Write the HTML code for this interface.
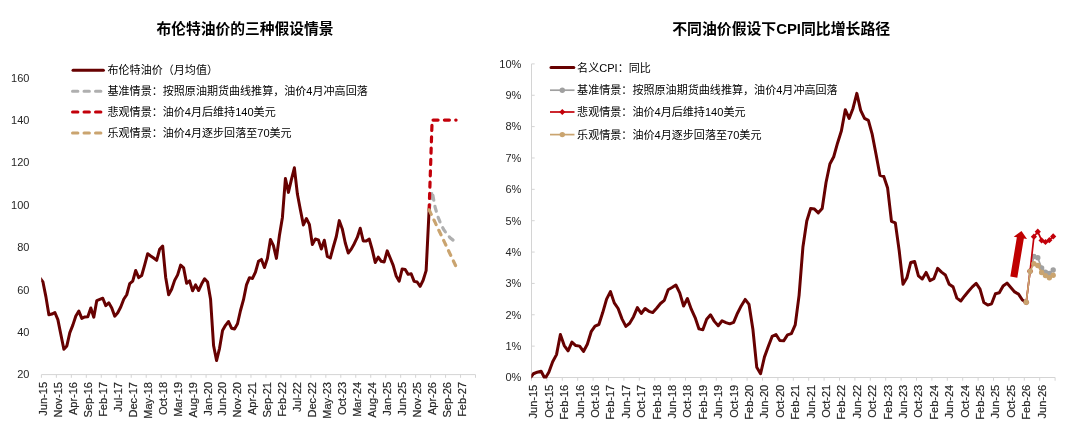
<!DOCTYPE html>
<html lang="zh"><head><meta charset="utf-8"><title>chart</title>
<style>
html,body{margin:0;padding:0;background:#fff;}
body{width:1080px;height:438px;overflow:hidden;}
svg{display:block;will-change:transform;}
text{font-family:"Liberation Sans","Noto Sans CJK SC",sans-serif;}
</style></head><body>
<svg width="1080" height="438" viewBox="0 0 1080 438">
<path d="M41.4 374.6 H475.5" stroke="#D4D4D4" stroke-width="1" fill="none"/>
<path d="M41.40 374.6 v3.2M56.37 374.6 v3.2M71.34 374.6 v3.2M86.31 374.6 v3.2M101.28 374.6 v3.2M116.25 374.6 v3.2M131.22 374.6 v3.2M146.19 374.6 v3.2M161.16 374.6 v3.2M176.13 374.6 v3.2M191.10 374.6 v3.2M206.07 374.6 v3.2M221.04 374.6 v3.2M236.01 374.6 v3.2M250.98 374.6 v3.2M265.95 374.6 v3.2M280.92 374.6 v3.2M295.89 374.6 v3.2M310.86 374.6 v3.2M325.83 374.6 v3.2M340.80 374.6 v3.2M355.77 374.6 v3.2M370.74 374.6 v3.2M385.71 374.6 v3.2M400.68 374.6 v3.2M415.65 374.6 v3.2M430.62 374.6 v3.2M445.59 374.6 v3.2M460.56 374.6 v3.2M475.53 374.6 v3.2" stroke="#D4D4D4" stroke-width="1" fill="none"/>
<text x="29.4" y="378.45" font-size="11" text-anchor="end" fill="#262626">20</text>
<text x="29.4" y="336.03" font-size="11" text-anchor="end" fill="#262626">40</text>
<text x="29.4" y="293.61" font-size="11" text-anchor="end" fill="#262626">60</text>
<text x="29.4" y="251.19" font-size="11" text-anchor="end" fill="#262626">80</text>
<text x="29.4" y="208.77" font-size="11" text-anchor="end" fill="#262626">100</text>
<text x="29.4" y="166.35" font-size="11" text-anchor="end" fill="#262626">120</text>
<text x="29.4" y="123.93" font-size="11" text-anchor="end" fill="#262626">140</text>
<text x="29.4" y="81.51" font-size="11" text-anchor="end" fill="#262626">160</text>
<text transform="translate(46.85 382.00) rotate(-90)" font-size="11" text-anchor="end" fill="#262626" stroke="#262626" stroke-width="0.2">Jun-15</text>
<text transform="translate(61.82 382.00) rotate(-90)" font-size="11" text-anchor="end" fill="#262626" stroke="#262626" stroke-width="0.2">Nov-15</text>
<text transform="translate(76.79 382.00) rotate(-90)" font-size="11" text-anchor="end" fill="#262626" stroke="#262626" stroke-width="0.2">Apr-16</text>
<text transform="translate(91.76 382.00) rotate(-90)" font-size="11" text-anchor="end" fill="#262626" stroke="#262626" stroke-width="0.2">Sep-16</text>
<text transform="translate(106.73 382.00) rotate(-90)" font-size="11" text-anchor="end" fill="#262626" stroke="#262626" stroke-width="0.2">Feb-17</text>
<text transform="translate(121.70 382.00) rotate(-90)" font-size="11" text-anchor="end" fill="#262626" stroke="#262626" stroke-width="0.2">Jul-17</text>
<text transform="translate(136.67 382.00) rotate(-90)" font-size="11" text-anchor="end" fill="#262626" stroke="#262626" stroke-width="0.2">Dec-17</text>
<text transform="translate(151.64 382.00) rotate(-90)" font-size="11" text-anchor="end" fill="#262626" stroke="#262626" stroke-width="0.2">May-18</text>
<text transform="translate(166.61 382.00) rotate(-90)" font-size="11" text-anchor="end" fill="#262626" stroke="#262626" stroke-width="0.2">Oct-18</text>
<text transform="translate(181.58 382.00) rotate(-90)" font-size="11" text-anchor="end" fill="#262626" stroke="#262626" stroke-width="0.2">Mar-19</text>
<text transform="translate(196.55 382.00) rotate(-90)" font-size="11" text-anchor="end" fill="#262626" stroke="#262626" stroke-width="0.2">Aug-19</text>
<text transform="translate(211.52 382.00) rotate(-90)" font-size="11" text-anchor="end" fill="#262626" stroke="#262626" stroke-width="0.2">Jan-20</text>
<text transform="translate(226.49 382.00) rotate(-90)" font-size="11" text-anchor="end" fill="#262626" stroke="#262626" stroke-width="0.2">Jun-20</text>
<text transform="translate(241.46 382.00) rotate(-90)" font-size="11" text-anchor="end" fill="#262626" stroke="#262626" stroke-width="0.2">Nov-20</text>
<text transform="translate(256.43 382.00) rotate(-90)" font-size="11" text-anchor="end" fill="#262626" stroke="#262626" stroke-width="0.2">Apr-21</text>
<text transform="translate(271.40 382.00) rotate(-90)" font-size="11" text-anchor="end" fill="#262626" stroke="#262626" stroke-width="0.2">Sep-21</text>
<text transform="translate(286.37 382.00) rotate(-90)" font-size="11" text-anchor="end" fill="#262626" stroke="#262626" stroke-width="0.2">Feb-22</text>
<text transform="translate(301.34 382.00) rotate(-90)" font-size="11" text-anchor="end" fill="#262626" stroke="#262626" stroke-width="0.2">Jul-22</text>
<text transform="translate(316.31 382.00) rotate(-90)" font-size="11" text-anchor="end" fill="#262626" stroke="#262626" stroke-width="0.2">Dec-22</text>
<text transform="translate(331.28 382.00) rotate(-90)" font-size="11" text-anchor="end" fill="#262626" stroke="#262626" stroke-width="0.2">May-23</text>
<text transform="translate(346.25 382.00) rotate(-90)" font-size="11" text-anchor="end" fill="#262626" stroke="#262626" stroke-width="0.2">Oct-23</text>
<text transform="translate(361.22 382.00) rotate(-90)" font-size="11" text-anchor="end" fill="#262626" stroke="#262626" stroke-width="0.2">Mar-24</text>
<text transform="translate(376.19 382.00) rotate(-90)" font-size="11" text-anchor="end" fill="#262626" stroke="#262626" stroke-width="0.2">Aug-24</text>
<text transform="translate(391.16 382.00) rotate(-90)" font-size="11" text-anchor="end" fill="#262626" stroke="#262626" stroke-width="0.2">Jan-25</text>
<text transform="translate(406.13 382.00) rotate(-90)" font-size="11" text-anchor="end" fill="#262626" stroke="#262626" stroke-width="0.2">Jun-25</text>
<text transform="translate(421.10 382.00) rotate(-90)" font-size="11" text-anchor="end" fill="#262626" stroke="#262626" stroke-width="0.2">Nov-25</text>
<text transform="translate(436.07 382.00) rotate(-90)" font-size="11" text-anchor="end" fill="#262626" stroke="#262626" stroke-width="0.2">Apr-26</text>
<text transform="translate(451.04 382.00) rotate(-90)" font-size="11" text-anchor="end" fill="#262626" stroke="#262626" stroke-width="0.2">Sep-26</text>
<text transform="translate(466.01 382.00) rotate(-90)" font-size="11" text-anchor="end" fill="#262626" stroke="#262626" stroke-width="0.2">Feb-27</text>
<clipPath id="cl"><rect x="41.2" y="50" width="440" height="330"/></clipPath>
<path d="M39.90 277.86 L42.90 281.81 L45.89 296.63 L48.88 314.77 L51.88 314.07 L54.87 312.48 L57.87 319.60 L60.86 334.51 L63.86 349.30 L66.85 345.90 L69.84 332.63 L72.84 325.10 L75.83 315.95 L78.83 311.12 L81.82 318.33 L84.81 316.99 L87.81 316.82 L90.80 308.02 L93.80 317.16 L96.79 300.53 L99.78 299.41 L102.78 298.24 L105.77 305.58 L108.77 302.87 L111.76 308.02 L114.75 316.17 L117.75 312.77 L120.74 307.00 L123.74 299.28 L126.73 294.74 L129.72 283.67 L132.72 281.09 L135.71 270.50 L138.71 277.61 L141.70 275.51 L144.69 264.82 L147.69 253.68 L150.68 255.95 L153.68 258.05 L156.67 260.41 L159.66 249.23 L162.66 246.00 L165.65 277.14 L168.65 294.70 L171.64 289.25 L174.63 280.36 L177.63 274.85 L180.62 265.09 L183.62 267.91 L186.61 283.31 L189.60 280.83 L192.60 290.82 L195.59 284.90 L198.59 290.54 L201.58 284.01 L204.57 278.79 L207.57 281.98 L210.56 299.35 L213.56 345.48 L216.55 360.54 L219.54 348.28 L222.54 330.55 L225.53 325.35 L228.53 321.53 L231.52 328.21 L234.51 328.96 L237.51 323.74 L240.50 310.50 L243.50 299.69 L246.49 284.92 L249.48 277.67 L252.48 278.46 L255.47 272.13 L258.47 261.32 L261.46 259.45 L264.45 267.47 L267.45 258.20 L270.44 239.39 L273.44 245.54 L276.43 258.37 L279.42 235.53 L282.42 217.43 L285.41 178.49 L288.41 192.36 L291.40 179.55 L294.39 167.80 L297.39 194.06 L300.38 209.71 L303.38 224.92 L306.37 218.52 L309.36 224.33 L312.36 244.50 L315.35 239.05 L318.34 239.83 L321.34 249.02 L324.33 240.19 L327.33 256.48 L330.32 257.99 L333.31 247.00 L336.31 236.52 L339.30 220.64 L342.30 228.89 L345.29 243.03 L348.29 253.02 L351.28 249.14 L354.27 243.69 L357.27 237.43 L360.26 228.25 L363.25 240.98 L366.25 240.98 L369.24 239.11 L372.24 249.72 L375.23 262.46 L378.23 257.14 L381.22 261.34 L384.21 261.91 L387.21 250.84 L390.20 258.05 L393.19 265.43 L396.19 276.06 L399.18 281.25 L402.18 268.97 L405.17 269.50 L408.17 274.36 L411.16 273.68 L414.15 281.38 L417.15 282.00 L420.14 286.30 L423.13 280.22 L426.13 270.67 L429.12 209.80" fill="none" stroke="#670101" stroke-width="3.0" stroke-linejoin="round" stroke-linecap="round" clip-path="url(#cl)"/>
<path d="M429.12 209.80 L432.12 191.35 L435.11 207.25 L438.11 217.22 L441.10 224.65 L444.09 230.16 L447.09 234.19 L450.08 237.80 L453.07 240.13 L456.07 242.46" fill="none" stroke="#AFAFAF" stroke-width="3.2" stroke-linejoin="round" stroke-linecap="round" stroke-dasharray="5.0 6.34"/>
<path d="M429.12 209.80 L432.12 120.08 L435.11 120.08 L438.11 120.08 L441.10 120.08 L444.09 120.08 L447.09 120.08 L450.08 120.08 L453.07 120.08 L456.07 120.08" fill="none" stroke="#C3000A" stroke-width="3.2" stroke-linejoin="round" stroke-linecap="round" stroke-dasharray="5.0 6.34"/>
<path d="M429.12 209.80 L432.12 216.11 L435.11 222.43 L438.11 228.75 L441.10 235.06 L444.09 241.38 L447.09 247.69 L450.08 254.01 L453.07 260.33 L456.07 266.64" fill="none" stroke="#CAA46F" stroke-width="3.2" stroke-linejoin="round" stroke-linecap="round" stroke-dasharray="5.0 6.34"/>
<path d="M73 70.30 H103.4" stroke="#670101" stroke-width="3" stroke-linecap="round" fill="none"/>
<text x="107.50" y="74.30" font-size="11.05" fill="#000">布伦特油价（月均值）</text>
<path d="M72.5 91.20 H101.6" stroke="#AFAFAF" stroke-width="3" stroke-linecap="round" stroke-dasharray="5.4 6.1" fill="none"/>
<text x="107.50" y="95.20" font-size="11.05" fill="#000">基准情景：按照原油期货曲线推算，油价4月冲高回落</text>
<path d="M72.5 112.00 H101.6" stroke="#C3000A" stroke-width="3" stroke-linecap="round" stroke-dasharray="5.4 6.1" fill="none"/>
<text x="107.50" y="116.00" font-size="11.05" fill="#000">悲观情景：油价4月后维持140美元</text>
<path d="M72.5 133.00 H101.6" stroke="#CAA46F" stroke-width="3" stroke-linecap="round" stroke-dasharray="5.4 6.1" fill="none"/>
<text x="107.50" y="137.00" font-size="11.05" fill="#000">乐观情景：油价4月逐步回落至70美元</text>
<text x="156.50" y="34.40" font-size="14.75" font-weight="bold" fill="#000">布伦特油价的三种假设情景</text>
<path d="M531.5 377.5 H1055.1" stroke="#D4D4D4" stroke-width="1" fill="none"/>
<path d="M531.5 377.5 V63.9" stroke="#D4D4D4" stroke-width="1" fill="none"/>
<path d="M531.50 377.5 v3.2M546.90 377.5 v3.2M562.30 377.5 v3.2M577.70 377.5 v3.2M593.10 377.5 v3.2M608.50 377.5 v3.2M623.90 377.5 v3.2M639.30 377.5 v3.2M654.70 377.5 v3.2M670.10 377.5 v3.2M685.50 377.5 v3.2M700.90 377.5 v3.2M716.30 377.5 v3.2M731.70 377.5 v3.2M747.10 377.5 v3.2M762.50 377.5 v3.2M777.90 377.5 v3.2M793.30 377.5 v3.2M808.70 377.5 v3.2M824.10 377.5 v3.2M839.50 377.5 v3.2M854.90 377.5 v3.2M870.30 377.5 v3.2M885.70 377.5 v3.2M901.10 377.5 v3.2M916.50 377.5 v3.2M931.90 377.5 v3.2M947.30 377.5 v3.2M962.70 377.5 v3.2M978.10 377.5 v3.2M993.50 377.5 v3.2M1008.90 377.5 v3.2M1024.30 377.5 v3.2M1039.70 377.5 v3.2M1055.10 377.5 v3.2M531.5 377.50 h3.2M531.5 346.14 h3.2M531.5 314.78 h3.2M531.5 283.42 h3.2M531.5 252.06 h3.2M531.5 220.70 h3.2M531.5 189.34 h3.2M531.5 157.98 h3.2M531.5 126.62 h3.2M531.5 95.26 h3.2M531.5 63.90 h3.2" stroke="#D4D4D4" stroke-width="1" fill="none"/>
<text x="521.4" y="381.35" font-size="11" text-anchor="end" fill="#262626">0%</text>
<text x="521.4" y="349.99" font-size="11" text-anchor="end" fill="#262626">1%</text>
<text x="521.4" y="318.63" font-size="11" text-anchor="end" fill="#262626">2%</text>
<text x="521.4" y="287.27" font-size="11" text-anchor="end" fill="#262626">3%</text>
<text x="521.4" y="255.91" font-size="11" text-anchor="end" fill="#262626">4%</text>
<text x="521.4" y="224.55" font-size="11" text-anchor="end" fill="#262626">5%</text>
<text x="521.4" y="193.19" font-size="11" text-anchor="end" fill="#262626">6%</text>
<text x="521.4" y="161.83" font-size="11" text-anchor="end" fill="#262626">7%</text>
<text x="521.4" y="130.47" font-size="11" text-anchor="end" fill="#262626">8%</text>
<text x="521.4" y="99.11" font-size="11" text-anchor="end" fill="#262626">9%</text>
<text x="521.4" y="67.75" font-size="11" text-anchor="end" fill="#262626">10%</text>
<text transform="translate(537.38 384.80) rotate(-90)" font-size="11" text-anchor="end" fill="#262626" stroke="#262626" stroke-width="0.2">Jun-15</text>
<text transform="translate(552.78 384.80) rotate(-90)" font-size="11" text-anchor="end" fill="#262626" stroke="#262626" stroke-width="0.2">Oct-15</text>
<text transform="translate(568.18 384.80) rotate(-90)" font-size="11" text-anchor="end" fill="#262626" stroke="#262626" stroke-width="0.2">Feb-16</text>
<text transform="translate(583.58 384.80) rotate(-90)" font-size="11" text-anchor="end" fill="#262626" stroke="#262626" stroke-width="0.2">Jun-16</text>
<text transform="translate(598.98 384.80) rotate(-90)" font-size="11" text-anchor="end" fill="#262626" stroke="#262626" stroke-width="0.2">Oct-16</text>
<text transform="translate(614.38 384.80) rotate(-90)" font-size="11" text-anchor="end" fill="#262626" stroke="#262626" stroke-width="0.2">Feb-17</text>
<text transform="translate(629.78 384.80) rotate(-90)" font-size="11" text-anchor="end" fill="#262626" stroke="#262626" stroke-width="0.2">Jun-17</text>
<text transform="translate(645.18 384.80) rotate(-90)" font-size="11" text-anchor="end" fill="#262626" stroke="#262626" stroke-width="0.2">Oct-17</text>
<text transform="translate(660.58 384.80) rotate(-90)" font-size="11" text-anchor="end" fill="#262626" stroke="#262626" stroke-width="0.2">Feb-18</text>
<text transform="translate(675.98 384.80) rotate(-90)" font-size="11" text-anchor="end" fill="#262626" stroke="#262626" stroke-width="0.2">Jun-18</text>
<text transform="translate(691.38 384.80) rotate(-90)" font-size="11" text-anchor="end" fill="#262626" stroke="#262626" stroke-width="0.2">Oct-18</text>
<text transform="translate(706.78 384.80) rotate(-90)" font-size="11" text-anchor="end" fill="#262626" stroke="#262626" stroke-width="0.2">Feb-19</text>
<text transform="translate(722.18 384.80) rotate(-90)" font-size="11" text-anchor="end" fill="#262626" stroke="#262626" stroke-width="0.2">Jun-19</text>
<text transform="translate(737.58 384.80) rotate(-90)" font-size="11" text-anchor="end" fill="#262626" stroke="#262626" stroke-width="0.2">Oct-19</text>
<text transform="translate(752.98 384.80) rotate(-90)" font-size="11" text-anchor="end" fill="#262626" stroke="#262626" stroke-width="0.2">Feb-20</text>
<text transform="translate(768.38 384.80) rotate(-90)" font-size="11" text-anchor="end" fill="#262626" stroke="#262626" stroke-width="0.2">Jun-20</text>
<text transform="translate(783.78 384.80) rotate(-90)" font-size="11" text-anchor="end" fill="#262626" stroke="#262626" stroke-width="0.2">Oct-20</text>
<text transform="translate(799.18 384.80) rotate(-90)" font-size="11" text-anchor="end" fill="#262626" stroke="#262626" stroke-width="0.2">Feb-21</text>
<text transform="translate(814.58 384.80) rotate(-90)" font-size="11" text-anchor="end" fill="#262626" stroke="#262626" stroke-width="0.2">Jun-21</text>
<text transform="translate(829.98 384.80) rotate(-90)" font-size="11" text-anchor="end" fill="#262626" stroke="#262626" stroke-width="0.2">Oct-21</text>
<text transform="translate(845.38 384.80) rotate(-90)" font-size="11" text-anchor="end" fill="#262626" stroke="#262626" stroke-width="0.2">Feb-22</text>
<text transform="translate(860.78 384.80) rotate(-90)" font-size="11" text-anchor="end" fill="#262626" stroke="#262626" stroke-width="0.2">Jun-22</text>
<text transform="translate(876.18 384.80) rotate(-90)" font-size="11" text-anchor="end" fill="#262626" stroke="#262626" stroke-width="0.2">Oct-22</text>
<text transform="translate(891.58 384.80) rotate(-90)" font-size="11" text-anchor="end" fill="#262626" stroke="#262626" stroke-width="0.2">Feb-23</text>
<text transform="translate(906.98 384.80) rotate(-90)" font-size="11" text-anchor="end" fill="#262626" stroke="#262626" stroke-width="0.2">Jun-23</text>
<text transform="translate(922.38 384.80) rotate(-90)" font-size="11" text-anchor="end" fill="#262626" stroke="#262626" stroke-width="0.2">Oct-23</text>
<text transform="translate(937.78 384.80) rotate(-90)" font-size="11" text-anchor="end" fill="#262626" stroke="#262626" stroke-width="0.2">Feb-24</text>
<text transform="translate(953.18 384.80) rotate(-90)" font-size="11" text-anchor="end" fill="#262626" stroke="#262626" stroke-width="0.2">Jun-24</text>
<text transform="translate(968.58 384.80) rotate(-90)" font-size="11" text-anchor="end" fill="#262626" stroke="#262626" stroke-width="0.2">Oct-24</text>
<text transform="translate(983.98 384.80) rotate(-90)" font-size="11" text-anchor="end" fill="#262626" stroke="#262626" stroke-width="0.2">Feb-25</text>
<text transform="translate(999.38 384.80) rotate(-90)" font-size="11" text-anchor="end" fill="#262626" stroke="#262626" stroke-width="0.2">Jun-25</text>
<text transform="translate(1014.78 384.80) rotate(-90)" font-size="11" text-anchor="end" fill="#262626" stroke="#262626" stroke-width="0.2">Oct-25</text>
<text transform="translate(1030.17 384.80) rotate(-90)" font-size="11" text-anchor="end" fill="#262626" stroke="#262626" stroke-width="0.2">Feb-26</text>
<text transform="translate(1045.58 384.80) rotate(-90)" font-size="11" text-anchor="end" fill="#262626" stroke="#262626" stroke-width="0.2">Jun-26</text>
<clipPath id="cr"><rect x="531.3" y="50" width="540" height="328.6"/></clipPath>
<path d="M529.58 378.75 L533.42 373.74 L537.27 372.17 L541.12 371.23 L544.98 378.75 L548.83 372.17 L552.67 361.82 L556.52 354.61 L560.38 334.54 L564.23 345.51 L568.08 350.84 L571.92 342.06 L575.77 345.51 L579.62 346.14 L583.48 351.47 L587.33 344.26 L591.17 331.71 L595.02 326.07 L598.88 324.50 L602.73 312.58 L606.58 299.10 L610.42 291.57 L614.27 302.86 L618.12 308.51 L621.98 318.86 L625.83 326.38 L629.67 323.25 L633.52 316.66 L637.38 307.57 L641.23 313.53 L645.08 308.51 L648.92 311.33 L652.77 312.58 L656.62 308.19 L660.48 303.49 L664.33 300.35 L668.17 289.69 L672.02 287.50 L675.88 284.99 L679.73 292.83 L683.58 306.00 L687.42 298.47 L691.27 309.14 L695.12 317.60 L698.98 328.89 L702.83 329.83 L706.67 319.17 L710.52 314.78 L714.38 321.37 L718.23 325.76 L722.08 320.74 L725.92 322.62 L729.77 323.87 L733.62 322.31 L737.48 313.21 L741.33 305.69 L745.17 299.41 L749.02 304.43 L752.88 329.21 L756.73 367.15 L760.58 373.74 L764.42 357.12 L768.27 346.45 L772.12 336.42 L775.98 334.54 L779.83 340.50 L783.67 340.81 L787.53 334.85 L791.38 333.60 L795.23 324.82 L799.08 295.34 L802.92 247.04 L806.78 221.01 L810.62 208.47 L814.48 209.10 L818.33 212.86 L822.17 208.47 L826.03 182.44 L829.88 163.94 L833.73 156.73 L837.58 142.93 L841.42 130.70 L845.28 109.69 L849.12 118.47 L852.98 108.43 L856.83 93.38 L860.67 110.31 L864.53 118.47 L868.38 120.35 L872.23 134.46 L876.08 154.53 L879.92 175.23 L883.78 176.48 L887.62 188.09 L891.48 221.33 L895.33 222.90 L899.17 250.49 L903.03 284.36 L906.88 277.78 L910.73 262.41 L914.58 261.47 L918.42 275.89 L922.28 279.03 L926.12 272.44 L929.98 280.60 L933.83 278.72 L937.67 268.37 L941.53 272.13 L945.38 274.95 L949.23 284.36 L953.08 286.87 L956.92 298.16 L960.78 300.98 L964.62 295.96 L968.48 291.26 L972.33 286.87 L976.17 283.42 L980.03 289.06 L983.88 302.55 L987.73 305.06 L991.58 303.80 L995.42 293.77 L999.28 292.83 L1003.12 285.93 L1006.98 283.11 L1010.83 287.50 L1014.67 291.89 L1018.53 294.08 L1022.38 300.04 L1026.22 302.24" fill="none" stroke="#670101" stroke-width="3.0" stroke-linejoin="round" stroke-linecap="round" clip-path="url(#cr)"/>
<path d="M1026.22 302.24 L1030.08 271.19 L1033.92 256.45 L1037.78 257.70 L1041.62 268.05 L1045.47 272.13 L1049.33 273.38 L1053.18 269.94" fill="none" stroke="#A0A0A0" stroke-width="1.7" stroke-linejoin="round" stroke-linecap="round"/>
<circle cx="1026.22" cy="302.24" r="2.7" fill="#A0A0A0"/><circle cx="1030.08" cy="271.19" r="2.7" fill="#A0A0A0"/><circle cx="1033.92" cy="256.45" r="2.7" fill="#A0A0A0"/><circle cx="1037.78" cy="257.70" r="2.7" fill="#A0A0A0"/><circle cx="1041.62" cy="268.05" r="2.7" fill="#A0A0A0"/><circle cx="1045.47" cy="272.13" r="2.7" fill="#A0A0A0"/><circle cx="1049.33" cy="273.38" r="2.7" fill="#A0A0A0"/><circle cx="1053.18" cy="269.94" r="2.7" fill="#A0A0A0"/>
<path d="M1026.22 302.24 L1030.08 271.19 L1033.92 236.69 L1037.78 231.68 L1041.62 240.46 L1045.47 242.02 L1049.33 240.14 L1053.18 236.38" fill="none" stroke="#C3000A" stroke-width="1.7" stroke-linejoin="round" stroke-linecap="round"/>
<path d="M1026.22 299.14 l3.1 3.1 l-3.1 3.1 l-3.1 -3.1z" fill="#C3000A"/><path d="M1030.08 268.09 l3.1 3.1 l-3.1 3.1 l-3.1 -3.1z" fill="#C3000A"/><path d="M1033.92 233.59 l3.1 3.1 l-3.1 3.1 l-3.1 -3.1z" fill="#C3000A"/><path d="M1037.78 228.58 l3.1 3.1 l-3.1 3.1 l-3.1 -3.1z" fill="#C3000A"/><path d="M1041.62 237.36 l3.1 3.1 l-3.1 3.1 l-3.1 -3.1z" fill="#C3000A"/><path d="M1045.47 238.92 l3.1 3.1 l-3.1 3.1 l-3.1 -3.1z" fill="#C3000A"/><path d="M1049.33 237.04 l3.1 3.1 l-3.1 3.1 l-3.1 -3.1z" fill="#C3000A"/><path d="M1053.18 233.28 l3.1 3.1 l-3.1 3.1 l-3.1 -3.1z" fill="#C3000A"/>
<path d="M1026.22 302.24 L1030.08 271.19 L1033.92 263.66 L1037.78 265.54 L1041.62 272.44 L1045.47 275.58 L1049.33 277.78 L1053.18 275.27" fill="none" stroke="#CAA46F" stroke-width="1.7" stroke-linejoin="round" stroke-linecap="round"/>
<circle cx="1026.22" cy="302.24" r="2.7" fill="#CAA46F"/><circle cx="1030.08" cy="271.19" r="2.7" fill="#CAA46F"/><circle cx="1033.92" cy="263.66" r="2.7" fill="#CAA46F"/><circle cx="1037.78" cy="265.54" r="2.7" fill="#CAA46F"/><circle cx="1041.62" cy="272.44" r="2.7" fill="#CAA46F"/><circle cx="1045.47" cy="275.58" r="2.7" fill="#CAA46F"/><circle cx="1049.33" cy="277.78" r="2.7" fill="#CAA46F"/><circle cx="1053.18" cy="275.27" r="2.7" fill="#CAA46F"/>
<path d="M1021.5 230.9 L1027.01 238.92 L1023.85 238.39 L1017.31 277.77 L1010.31 276.61 L1016.85 237.23 L1013.69 236.70 Z" fill="#C00000"/>
<path d="M551 67.60 H573.8" stroke="#670101" stroke-width="3" stroke-linecap="round" fill="none"/>
<text x="577.10" y="71.60" font-size="11.07" fill="#000">名义CPI：同比</text>
<path d="M550 90.20 H574.5" stroke="#A0A0A0" stroke-width="1.7" fill="none"/>
<circle cx="562.30" cy="90.20" r="2.7" fill="#A0A0A0"/>
<text x="577.10" y="94.20" font-size="11.07" fill="#000">基准情景：按照原油期货曲线推算，油价4月冲高回落</text>
<path d="M550 112.00 H574.5" stroke="#C3000A" stroke-width="1.7" fill="none"/>
<path d="M562.30 108.90 l3.1 3.1 l-3.1 3.1 l-3.1 -3.1z" fill="#C3000A"/>
<text x="577.10" y="116.00" font-size="11.07" fill="#000">悲观情景：油价4月后维持140美元</text>
<path d="M550 134.60 H574.5" stroke="#CAA46F" stroke-width="1.7" fill="none"/>
<circle cx="562.30" cy="134.60" r="2.7" fill="#CAA46F"/>
<text x="577.10" y="138.60" font-size="11.07" fill="#000">乐观情景：油价4月逐步回落至70美元</text>
<text x="672.20" y="34.40" font-size="14.87" font-weight="bold" fill="#000">不同油价假设下CPI同比增长路径</text>
</svg>
</body></html>
